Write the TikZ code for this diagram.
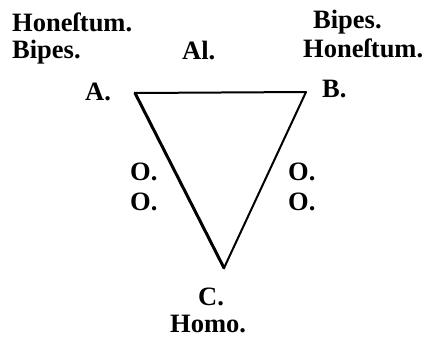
\documentclass[tikz,border=0pt]{standalone}
\usepackage{fontspec}
\setmainfont{Liberation Serif}
\usetikzlibrary{positioning}

\begin{document}
\begin{tikzpicture}[x=1pt,y=-1pt,
  every node/.style={font=\fontsize{26.5}{29}\selectfont\bfseries},
  lb/.style={inner sep=0pt,anchor=base west},
  edge/.style={line width=2pt,line cap=round,line join=miter}]
 \useasboundingbox (0,0) rectangle (429,338);
 \coordinate (A) at (135,93);
 \coordinate (B) at (306,92);
 \coordinate (C) at (224,268);
 \draw[edge] (A)--(B);
 \draw[edge,line width=3pt] (A)--(C);
 \draw[edge] (B)--(C);
 % labels
 \node[lb] (hl) at (12,31) {Hone\char"017F tum.};
 \node[lb] (bl) at (12,58) {Bipes.};
 \node[lb] (al) at (182,59) {Al.};
 \node[lb] (br) at (313,28) {Bipes.};
 \node[lb] (hr) at (303,57) {Hone\char"017F tum.};
 \node[lb] (la) at (85,100) {A.};
 \node[lb] (lbv) at (322,97) {B.};
 \node[lb] (o1) at (130,180) {O.};
 \node[lb] (o2) at (130,210) {O.};
 \node[lb] (o3) at (288,180) {O.};
 \node[lb] (o4) at (288,210) {O.};
 \node[lb] (lc) at (198,305) {C.};
 \node[lb] (ho) at (170,332) {Homo.};
\end{tikzpicture}
\end{document}
